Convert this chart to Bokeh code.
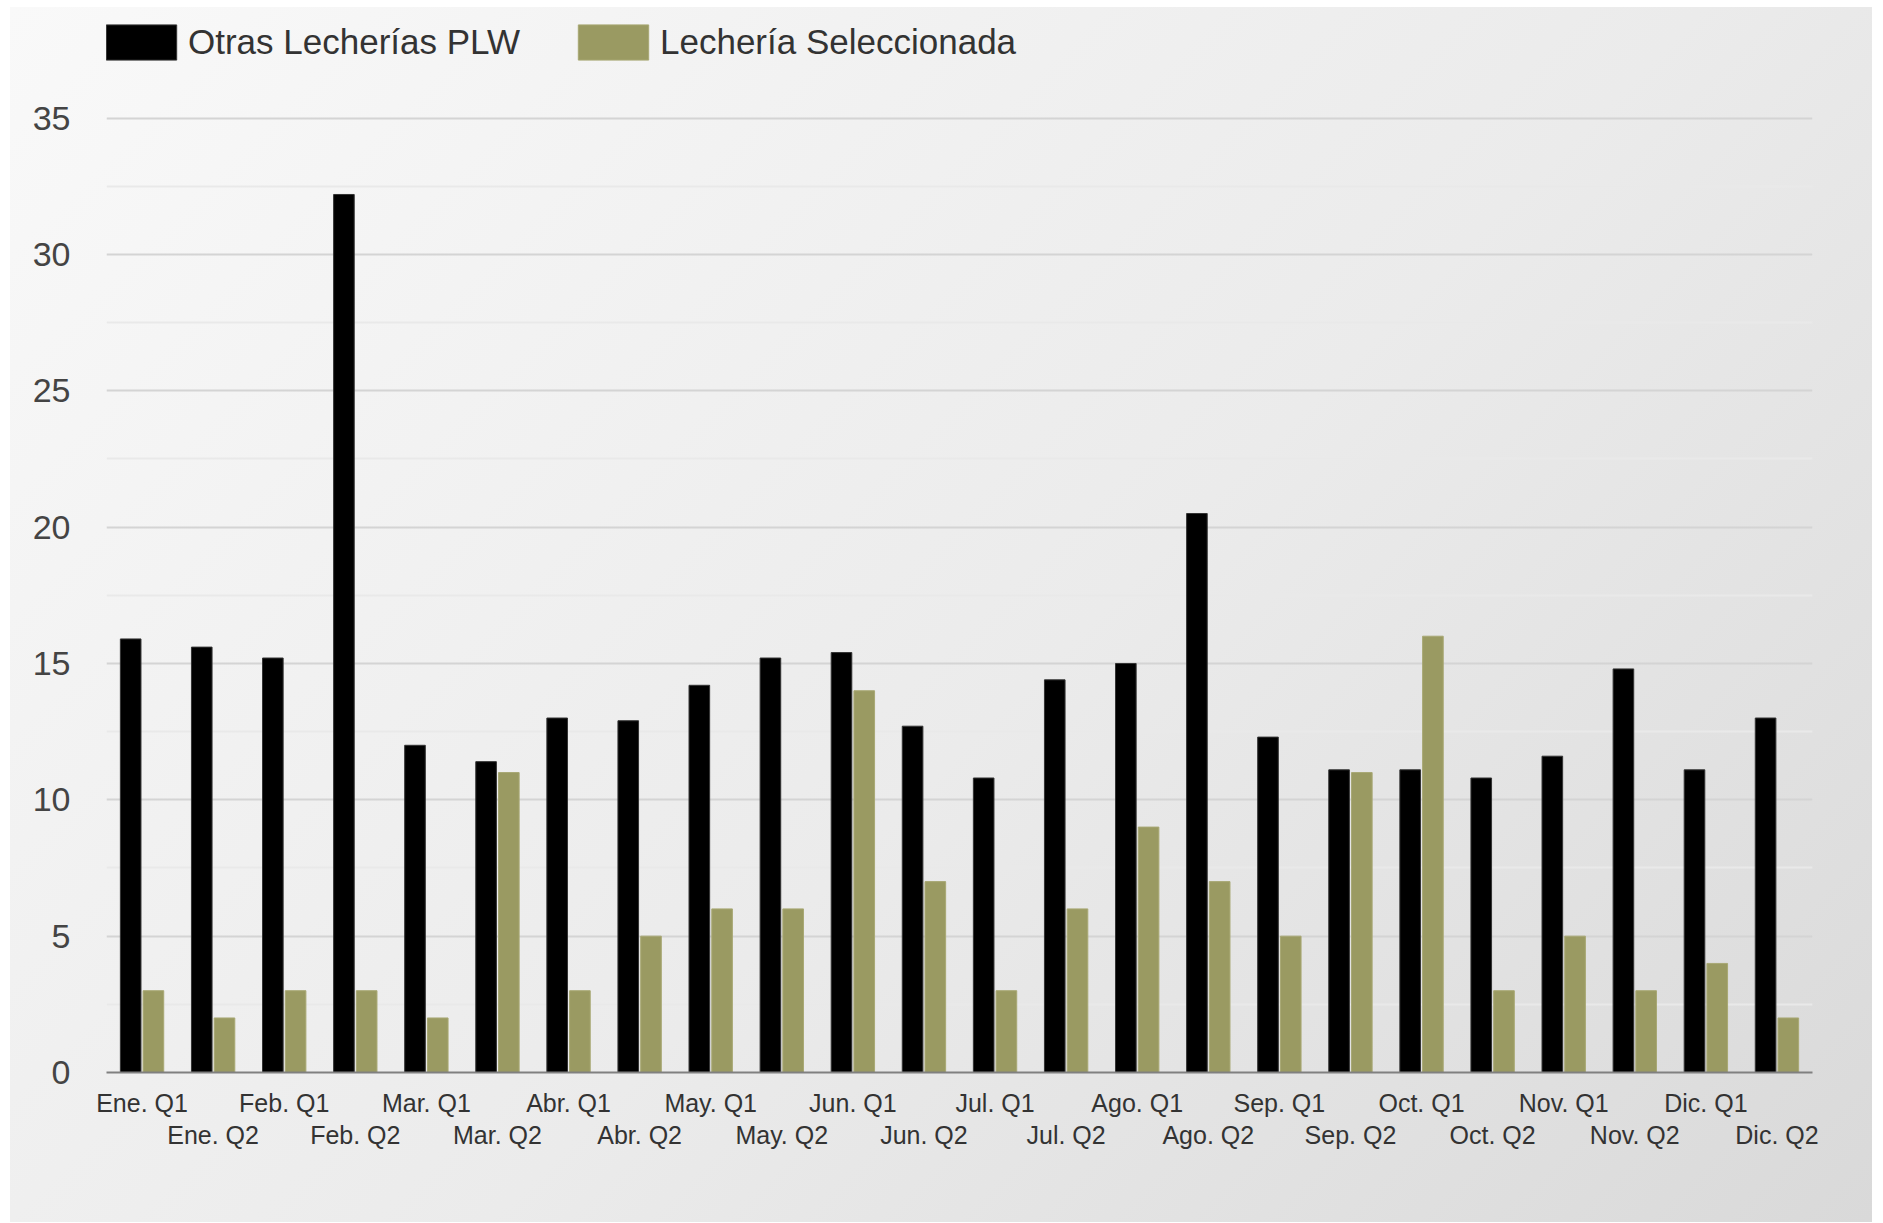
from bokeh.plotting import figure
from bokeh.models import (ColumnDataSource, FactorRange, Range1d, CategoricalAxis, LinearAxis,
                          Legend, LegendItem, FixedTicker, Grid, CustomJSTickFormatter)
from bokeh.transform import dodge
from bokeh.embed import file_html
from bokeh.resources import INLINE

categories = ["Ene. Q1", "Ene. Q2", "Feb. Q1", "Feb. Q2", "Mar. Q1", "Mar. Q2",
              "Abr. Q1", "Abr. Q2", "May. Q1", "May. Q2", "Jun. Q1", "Jun. Q2",
              "Jul. Q1", "Jul. Q2", "Ago. Q1", "Ago. Q2", "Sep. Q1", "Sep. Q2",
              "Oct. Q1", "Oct. Q2", "Nov. Q1", "Nov. Q2", "Dic. Q1", "Dic. Q2"]
otras = [15.9, 15.6, 15.2, 32.2, 12.0, 11.4, 13.0, 12.9, 14.2, 15.2, 15.4, 12.7,
         10.8, 14.4, 15.0, 20.5, 12.3, 11.1, 11.1, 10.8, 11.6, 14.8, 11.1, 13.0]
seleccionada = [3, 2, 3, 3, 2, 11, 3, 5, 6, 6, 14, 7,
                3, 6, 9, 7, 5, 11, 16, 3, 5, 3, 4, 2]
series_names = ["Otras Lecherías PLW", "Lechería Seleccionada"]
q1_labels = categories[0::2]
q2_labels = categories[1::2]
y_ticks = [0, 5, 10, 15, 20, 25, 30, 35]
y_minor_ticks = [2.5, 7.5, 12.5, 17.5, 22.5, 27.5, 32.5]

FONT = "Liberation Sans"

src = ColumnDataSource(dict(cat=categories, otras=otras, sel=seleccionada))

p = figure(x_range=FactorRange(*categories), y_range=Range1d(0, 38.69),
           width=1862, height=1215, output_backend="svg", toolbar_location=None,
           x_axis_location=None, y_axis_location=None,
           min_border_left=96, min_border_right=60, min_border_top=10, min_border_bottom=150)
p.margin = (7, 0, 0, 10)
p.grid.visible = False
p.border_fill_color = None
p.background_fill_color = None
p.outline_line_color = None
p.styles = {"background-image": "linear-gradient(135deg, #f9f9f9 0%, #ebebeb 55%, #d9d9d9 100%)"}

yaxis = LinearAxis(ticker=FixedTicker(ticks=y_ticks, minor_ticks=y_minor_ticks))
yaxis.axis_line_color = None
yaxis.major_tick_line_color = None
yaxis.minor_tick_line_color = None
yaxis.major_label_text_font = FONT
yaxis.major_label_text_font_size = "34px"
yaxis.major_label_text_color = "#444444"
yaxis.major_label_standoff = 30
p.add_layout(yaxis, "left")

grid = Grid(dimension=1, ticker=yaxis.ticker)
grid.grid_line_color = "#d4d4d4"
grid.grid_line_width = 2
grid.minor_grid_line_color = "#e9e9e9"
grid.minor_grid_line_width = 2
p.add_layout(grid)

xa1 = CategoricalAxis(formatter=CustomJSTickFormatter(args=dict(show=q1_labels),
                      code="return show.includes(tick) ? tick : '';"))
xa2 = CategoricalAxis(formatter=CustomJSTickFormatter(args=dict(show=q2_labels),
                      code="return show.includes(tick) ? tick : '';"))
for ax in (xa1, xa2):
    ax.major_tick_line_color = None
    ax.minor_tick_line_color = None
    ax.major_label_text_font = FONT
    ax.major_label_text_font_size = "25px"
    ax.major_label_text_color = "#333333"
xa1.axis_line_color = "#808080"
xa1.axis_line_width = 2
xa1.major_label_standoff = 10
xa2.axis_line_color = None
xa2.major_label_standoff = -5
p.add_layout(xa1, "below")
p.add_layout(xa2, "below")

r1 = p.vbar(x=dodge("cat", -0.16, range=p.x_range), top="otras", width=0.29, source=src,
            fill_color="#000000", line_color="#333333", line_width=1)
r2 = p.vbar(x=dodge("cat", 0.16, range=p.x_range), top="sel", width=0.29, source=src,
            fill_color="#9a9a62", line_color="#a8a874", line_width=1)

legend = Legend(items=[LegendItem(label=series_names[0], renderers=[r1]),
                       LegendItem(label=series_names[1], renderers=[r2])],
                orientation="horizontal", location=(-9, 1008))
legend.glyph_width = 88
legend.glyph_height = 44
legend.label_standoff = 3
legend.spacing = 49
legend.padding = 0
legend.margin = 0
legend.border_line_color = None
legend.background_fill_alpha = 0
legend.label_text_font = FONT
legend.label_text_font_size = "35px"
legend.label_text_color = "#333333"
legend.label_height = 44
p.add_layout(legend)

open("out.html", "w").write(file_html(p, INLINE))
